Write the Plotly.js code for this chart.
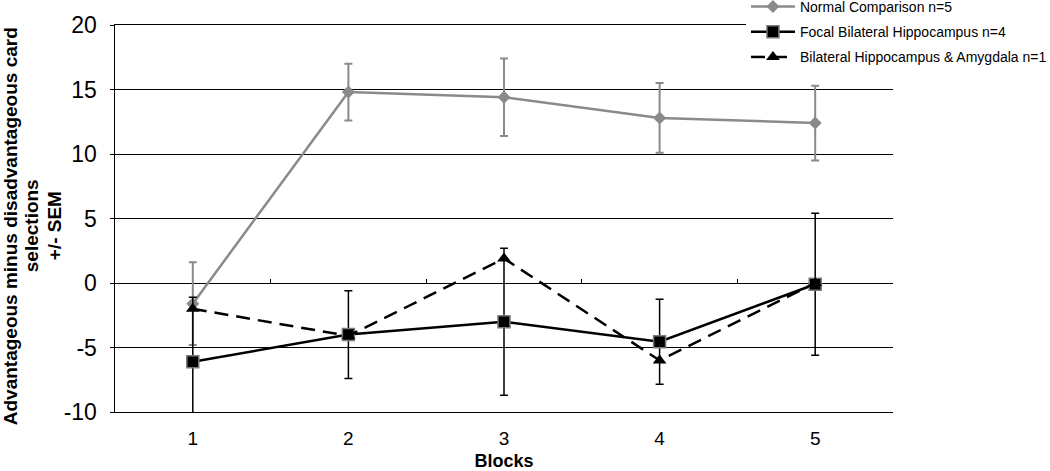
<!DOCTYPE html>
<html><head><meta charset="utf-8">
<script src="https://cdn.plot.ly/plotly-3.0.1.min.js"></script>
<style>html,body{margin:0;padding:0;background:#fff}</style>
</head><body><div id="chart" style="width:1050px;height:471px"></div>
<script>
const blocks = [1, 2, 3, 4, 5];
const blockLabels = ['1', '2', '3', '4', '5'];
const normalMean = [-1.6, 14.8, 14.4, 12.8, 12.4];
const normalSem = [3.2, 2.2, 3.0, 2.7, 2.9];
const focalMean = [-6.1, -4.0, -3.0, -4.55, -0.1];
const focalSem = [5.0, 3.4, 5.7, 3.3, 5.5];
const bilateralMean = [-2.0, -4.1, 1.9, -6.0, 0.0];
const seriesNames = ['Normal Comparison n=5', 'Focal Bilateral Hippocampus n=4', 'Bilateral Hippocampus &amp; Amygdala n=1'];
const yTicks = [-10, -5, 0, 5, 10, 15, 20];
const yTickLabels = ['-10', '-5', '0', '5', '10', '15', '20'];
const boundaryTicks = [1.5, 2.5, 3.5, 4.5, 5.5];
const xTitle = 'Blocks';
const yTitleLines = ['Advantageous minus disadvantageous card', 'selections', '+/- SEM'];

const FONT = 'Liberation Sans, Arial, sans-serif';
const GRAY = '#8a8a8a';

const traces = [
  {
    x: blocks, y: normalMean, name: seriesNames[0], legendgroup: 'a',
    mode: 'lines+markers', type: 'scatter',
    line: {color: GRAY, width: 2.5},
    marker: {symbol: 'diamond', size: 10, color: GRAY},
    error_y: {type: 'data', array: normalSem, visible: true, color: GRAY, thickness: 2, width: 4}
  },
  {
    x: blocks, y: focalMean, name: seriesNames[1], legendgroup: 'b',
    mode: 'lines+markers', type: 'scatter',
    line: {color: '#000', width: 2.5},
    marker: {symbol: 'square', size: 12, color: '#000', line: {color: '#7a7a7a', width: 1.5}},
    error_y: {type: 'data', array: focalSem, visible: true, color: '#000', thickness: 1.5, width: 4}
  },
  {
    x: blocks, y: bilateralMean, name: seriesNames[2], legendgroup: 'c',
    xaxis: 'x2', yaxis: 'y',
    mode: 'lines+markers', type: 'scatter',
    line: {color: '#000', width: 2.5, dash: '14px,8px'},
    marker: {symbol: 'triangle-up', size: 12, color: '#000'}
  }
];

// y-title lines: horizontal pixel centre of each rotated line
const yTitleX = [10, 31, 54];
const yTitleAnnotations = yTitleLines.map((t, i) => ({
  text: t, textangle: -90, showarrow: false,
  xref: 'paper', yref: 'paper', x: 0, xshift: yTitleX[i] - 115, y: 0.48,
  xanchor: 'center', yanchor: 'middle',
  font: {size: 19, family: FONT, weight: 'bold', color: '#000'}
}));

const layout = {
  width: 1050, height: 471,
  margin: {l: 115, r: 157, t: 25, b: 59, autoexpand: false},
  paper_bgcolor: '#fff', plot_bgcolor: '#fff',
  font: {family: FONT, color: '#000'},
  showlegend: true,
  xaxis: {
    range: [0.5, 5.5], tickvals: blocks, ticktext: blockLabels,
    showgrid: false, zeroline: false,
    showline: true, mirror: true, linecolor: '#000', linewidth: 1,
    ticks: '',
    tickfont: {size: 19, family: FONT, color: '#000'},
    ticklabelstandoff: 9,
    title: {text: xTitle, font: {size: 18, family: FONT, weight: 'bold', color: '#000'}, standoff: 8}
  },
  xaxis2: {
    overlaying: 'x', anchor: 'free', position: 1/3, side: 'bottom',
    range: [0.5, 5.5], tickvals: boundaryTicks,
    ticks: 'inside', ticklen: 4, tickwidth: 1, tickcolor: '#000',
    showticklabels: false, showgrid: false, zeroline: false, showline: false
  },
  yaxis: {
    range: [-10, 20], tickvals: yTicks, ticktext: yTickLabels,
    showgrid: true, gridcolor: '#000', gridwidth: 1,
    zeroline: false, showline: true, linecolor: '#000', linewidth: 1.5,
    ticks: 'outside', ticklen: 4, tickcolor: '#000', tickwidth: 1,
    tickfont: {size: 23, family: FONT, color: '#000'},
    ticklabelstandoff: 8
  },
  legend: {
    x: 0.811, y: 1.088, xanchor: 'left', yanchor: 'top',
    bgcolor: '#fff', borderwidth: 0,
    font: {size: 14, family: FONT, color: '#000'},
    tracegroupgap: 4, itemwidth: 44
  },
  annotations: yTitleAnnotations
};

Plotly.newPlot('chart', traces, layout, {displayModeBar: false, staticPlot: true});
</script></body></html>
